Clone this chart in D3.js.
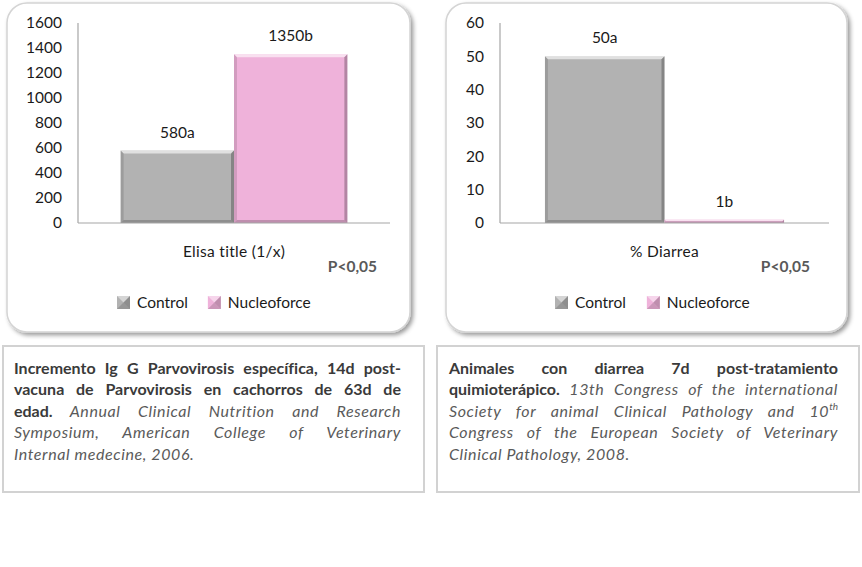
<!DOCTYPE html>
<html>
<head>
<meta charset="utf-8">
<style>
  body { margin: 0; background: #fff; font-family: Lato, sans-serif; font-variant-ligatures: none; }
  #wrap { position: relative; width: 862px; height: 567px; }
  svg { position: absolute; left: 0; top: 0; }
  .note { position: absolute; box-sizing: border-box; border: 2px solid #d2d2d2; }
  .line { position: absolute; white-space: nowrap; font-size: 16px; line-height: 21px; color: #404040; }
  .line b { font-weight: 700; color: #3a3a3a; }
  .line i { color: #5a5a5a; letter-spacing: 0.6px; }
  .line sup { font-size: 10px; vertical-align: 7px; line-height: 0; font-style: italic; color: #5a5a5a; }
</style>
<script src="https://cdn.jsdelivr.net/npm/d3@7"></script>
</head>
<body>
<div id="wrap"></div>
<script>
// data
var series = ["Control", "Nucleoforce"]
var seriesColors = ["#b2b2b2", "#efb2da"]

var elisaCategory = "Elisa title (1/x)"
var elisaValues = [580, 1350]
var elisaLabels = ["580a", "1350b"]
var elisaTicks = [0, 200, 400, 600, 800, 1000, 1200, 1400, 1600]

var diarreaCategory = "% Diarrea"
var diarreaValues = [50, 1]
var diarreaLabels = ["50a", "1b"]
var diarreaTicks = [0, 10, 20, 30, 40, 50, 60]

var pLabel = "P<0,05"

var leftNote = [
    [["b", "Incremento Ig G Parvovirosis específica, 14d post-"]],
    [["b", "vacuna de Parvovirosis en cachorros de 63d de"]],
    [["b", "edad."], ["i", " Annual Clinical Nutrition and Research"]],
    [["i", "Symposium, American College of Veterinary"]],
    [["i", "Internal medecine, 2006."]]
]
var rightNote = [
    [["b", "Animales con diarrea 7d post-tratamiento"]],
    [["b", "quimioterápico."], ["i", " 13th Congress of the international"]],
    [["i", "Society for animal Clinical Pathology and 10"], ["sup", "th"]],
    [["i", "Congress of the European Society of Veterinary"]],
    [["i", "Clinical Pathology, 2008."]]
]

var wrap = d3.select("#wrap")
var svg = wrap.append("svg").attr("width", 862).attr("height", 567)

var defs = svg.append("defs")
var shadow = defs.append("filter").attr("id", "shadow")
    .attr("x", "-5%").attr("y", "-5%").attr("width", "115%").attr("height", "115%")
shadow.append("feDropShadow")
    .attr("dx", 2.5).attr("dy", 2.5).attr("stdDeviation", 2)
    .attr("flood-color", "#000").attr("flood-opacity", 0.4)

function drawChart(opt) {
    var g = svg.append("g")

    // rounded panel
    g.append("rect")
        .attr("x", opt.box[0]).attr("y", opt.box[1])
        .attr("width", opt.box[2]).attr("height", opt.box[3])
        .attr("rx", 20).attr("ry", 20)
        .attr("fill", "#fff")
        .attr("stroke", "#d4d4d4").attr("stroke-width", 1.5)
        .attr("filter", "url(#shadow)")

    var y = d3.scaleLinear().domain(opt.domain).range([223, 23])
    var xCat = d3.scaleBand().domain([opt.category])
        .range([opt.x0, opt.x1]).paddingInner(0).paddingOuter(0.188)
    var xSer = d3.scaleBand().domain(series)
        .range([xCat(opt.category), xCat(opt.category) + xCat.bandwidth()])

    // y axis labels
    var yAxis = d3.axisLeft(y).tickValues(opt.ticks).tickFormat(d3.format("d"))
        .tickSize(0).tickPadding(16)
    var ya = g.append("g").attr("transform", `translate(${opt.x0},0)`).call(yAxis)
    ya.select(".domain").remove()
    ya.selectAll("text").attr("font-family", "Lato, sans-serif")
        .attr("font-size", 15.5).attr("fill", "#1a1a1a")

    // axis lines
    g.append("line").attr("x1", opt.x0).attr("x2", opt.x0)
        .attr("y1", y(opt.domain[1])).attr("y2", y(0))
        .attr("stroke", "#a6a6a6").attr("stroke-width", 1.2)

    // bars with bevel
    var bars = g.selectAll(".bar").data(series).enter().append("g")
    bars.each(function (s, i) {
        var b = d3.select(this)
        var bx = xSer(s), bw = xSer.bandwidth()
        var by = y(opt.values[i]), bh = y(0) - by
        var e = Math.min(3, bh / 2)
        b.append("rect").attr("x", bx).attr("y", by).attr("width", bw).attr("height", bh)
            .attr("fill", seriesColors[i])
        var x2 = bx + bw, y2 = by + bh
        b.append("polygon")
            .attr("points", [[bx, by], [x2, by], [x2 - e, by + e], [bx + e, by + e]].join(" "))
            .attr("fill", "#fff").attr("fill-opacity", 0.6)
        b.append("polygon")
            .attr("points", [[bx, by], [bx + e, by + e], [bx + e, y2 - e], [bx, y2]].join(" "))
            .attr("fill", "#000").attr("fill-opacity", 0.12)
        b.append("polygon")
            .attr("points", [[x2, by], [x2, y2], [x2 - e, y2 - e], [x2 - e, by + e]].join(" "))
            .attr("fill", "#000").attr("fill-opacity", 0.25)
        b.append("polygon")
            .attr("points", [[bx, y2], [x2, y2], [x2 - e, y2 - e], [bx + e, y2 - e]].join(" "))
            .attr("fill", "#000").attr("fill-opacity", 0.2)
        b.append("text")
            .attr("x", bx + bw / 2).attr("y", by - 13)
            .attr("text-anchor", "middle")
            .attr("font-size", 15.5).attr("fill", "#1a1a1a")
            .text(opt.labels[i])
    })

    g.append("line").attr("x1", opt.x0).attr("x2", opt.x1)
        .attr("y1", y(0)).attr("y2", y(0))
        .attr("stroke", "#a6a6a6").attr("stroke-width", 1.2)

    // category label and p value
    g.append("text")
        .attr("x", xCat(opt.category) + xCat.bandwidth() / 2).attr("y", 257)
        .attr("text-anchor", "middle").attr("font-size", 15.5).attr("fill", "#1a1a1a")
        .attr("letter-spacing", 0.3)
        .text(opt.category)
    g.append("text")
        .attr("x", opt.x1 - opt.pOffset).attr("y", 272)
        .attr("text-anchor", "end").attr("font-size", 15.5).attr("font-weight", 700)
        .attr("fill", "#595959")
        .text(pLabel)

    // legend
    var leg = g.append("g")
    var lx = opt.legendX
    series.forEach(function (s, i) {
        var item = leg.append("g").attr("transform", `translate(${lx},0)`)
        var c = seriesColors[i]
        var sx = 0, sy = 296, ss = 13
        item.append("rect").attr("x", sx).attr("y", sy).attr("width", ss).attr("height", ss)
            .attr("fill", c)
        item.append("polygon")
            .attr("points", [[sx, sy], [sx + ss, sy], [sx + ss / 2, sy + ss / 2]].join(" "))
            .attr("fill", "#fff").attr("fill-opacity", 0.45)
        item.append("polygon")
            .attr("points", [[sx + ss, sy], [sx + ss, sy + ss], [sx + ss / 2, sy + ss / 2]].join(" "))
            .attr("fill", "#000").attr("fill-opacity", 0.2)
        item.append("polygon")
            .attr("points", [[sx, sy + ss], [sx + ss, sy + ss], [sx + ss / 2, sy + ss / 2]].join(" "))
            .attr("fill", "#000").attr("fill-opacity", 0.15)
        var t = item.append("text").attr("x", ss + 7).attr("y", 308)
            .attr("font-size", 15.5).attr("fill", "#1a1a1a").text(s)
        lx += ss + 7 + t.node().getComputedTextLength() + opt.legendGap
    })
}

drawChart({
    box: [7, 3, 403, 329], x0: 78, x1: 390,
    domain: [0, 1600], ticks: elisaTicks,
    category: elisaCategory, values: elisaValues, labels: elisaLabels,
    pOffset: 13, legendX: 117, legendGap: 20
})
drawChart({
    box: [446, 3, 401, 329], x0: 500, x1: 829,
    domain: [0, 60], ticks: diarreaTicks,
    category: diarreaCategory, values: diarreaValues, labels: diarreaLabels,
    pOffset: 19, legendX: 555, legendGap: 21
})

// text boxes with justified lines
function drawNote(box, textLeft, textRight, lines) {
    wrap.append("div").attr("class", "note")
        .style("left", box[0] + "px").style("top", box[1] + "px")
        .style("width", box[2] + "px").style("height", box[3] + "px")
    var target = textRight - textLeft
    lines.forEach(function (parts, i) {
        var div = wrap.append("div").attr("class", "line")
            .style("left", textLeft + "px").style("top", (box[1] + 12 + i * 21.4) + "px")
        parts.forEach(function (p) {
            div.append(p[0]).text(p[1])
        })
        if (i < lines.length - 1) {
            var text = div.text()
            var gaps = (text.trim().match(/ +/g) || []).length
            var w = div.node().getBoundingClientRect().width
            if (w > target) {
                div.style("transform-origin", "0 0").style("transform", `scaleX(${target / w})`)
            } else if (gaps > 0) {
                div.style("word-spacing", ((target - w) / gaps) + "px")
            }
        }
    })
}

drawNote([2, 345, 423, 148], 14, 401, leftNote)
drawNote([436, 345, 424, 148], 449, 838, rightNote)
</script>
</body>
</html>
